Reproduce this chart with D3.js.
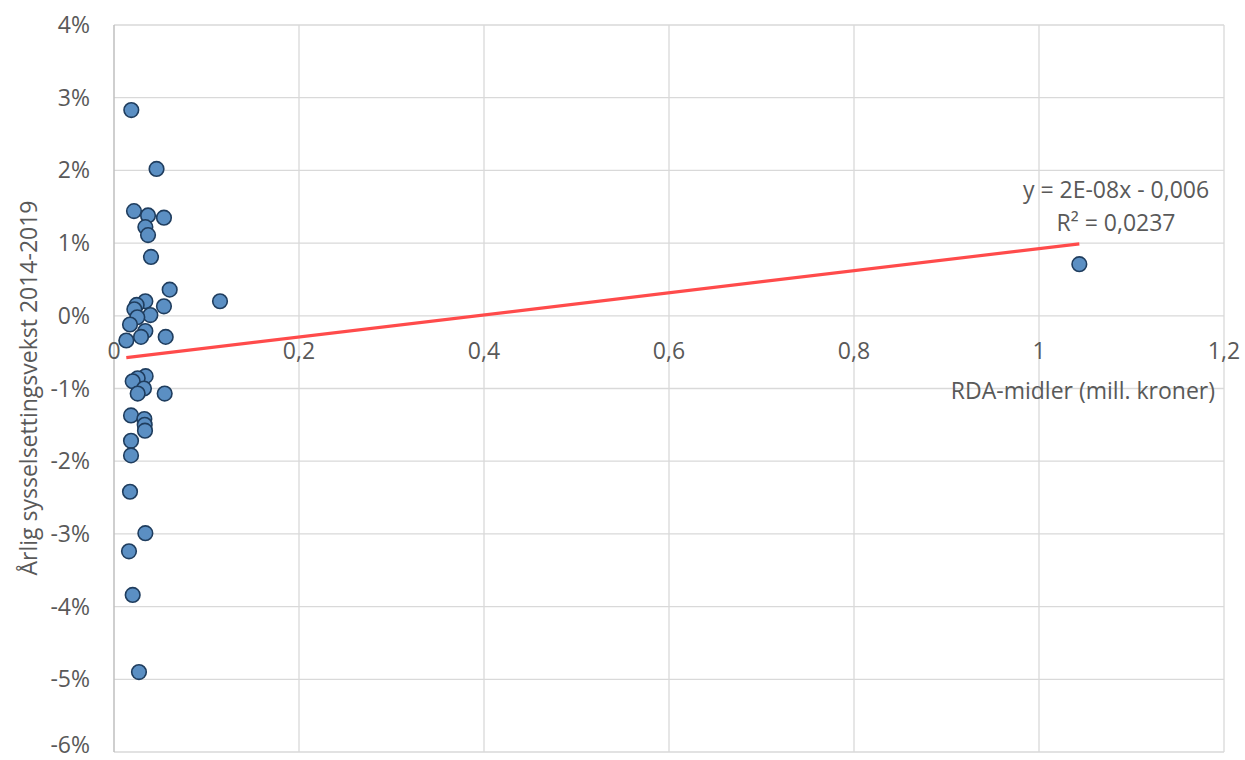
<!DOCTYPE html>
<html><head><meta charset="utf-8">
<script src="https://cdn.jsdelivr.net/npm/d3@7"></script>
<style>body{margin:0;background:#fff;} text{font-family:"Open Sans","Liberation Sans",Arial,sans-serif;fill:#595959;}</style>
</head><body>
<svg id="c" width="1245" height="760"></svg>
<script>
// RDA funds (mill. kroner)
const rdaX = [0.0187,0.046,0.0216,0.0368,0.054,0.0339,0.0368,0.040,
  0.0602,0.1146,0.0339,0.0245,0.022,0.054,0.0393,0.0252,0.0173,0.0339,0.0292,0.0133,0.0559,
  0.0342,0.0256,0.0202,0.0324,0.0256,0.0548,0.0184,0.0328,0.0332,0.0335,0.0184,0.0184,
  0.0173,0.0339,0.0162,0.0202,0.027,1.0436];
// annual employment growth 2014-2019 (%)
const growthY = [2.83,2.02,1.44,1.38,1.35,1.22,1.11,0.81,
  0.36,0.20,0.20,0.15,0.09,0.13,0.01,-0.02,-0.12,-0.21,-0.29,-0.34,-0.29,
  -0.83,-0.86,-0.90,-1.00,-1.07,-1.07,-1.37,-1.42,-1.50,-1.58,-1.72,-1.92,
  -2.42,-2.99,-3.24,-3.84,-4.90,0.71];
const xTicks = [0,0.2,0.4,0.6,0.8,1,1.2];
const xTickLabels = ["0","0,2","0,4","0,6","0,8","1","1,2"];
const yTicks = [4,3,2,1,0,-1,-2,-3,-4,-5,-6];
const yTickLabels = ["4%","3%","2%","1%","0%","-1%","-2%","-3%","-4%","-5%","-6%"];
const trendSlope = 1.519, trendIntercept = -0.595; // % per mill. kroner
const eqLines = ["y = 2E-08x - 0,006","R² = 0,0237"];
const xTitle = "RDA-midler (mill. kroner)";
const yTitle = "Årlig sysselsettingsvekst 2014-2019";

const svg = d3.select("#c");
const L=114, R=1224, T=25, B=752;
const x = d3.scaleLinear().domain([0,1.2]).range([L,R]);
const y = d3.scaleLinear().domain([-6,4]).range([B,T]);
const FS = 23;

// gridlines
svg.append("g").selectAll("line").data(yTicks).join("line")
  .attr("x1",L).attr("x2",R).attr("y1",d=>y(d)).attr("y2",d=>y(d))
  .attr("stroke","#d9d9d9").attr("stroke-width",1.3);
svg.append("g").selectAll("line").data(xTicks.slice(1)).join("line")
  .attr("x1",d=>x(d)).attr("x2",d=>x(d)).attr("y1",T).attr("y2",B)
  .attr("stroke","#d9d9d9").attr("stroke-width",1.3);
// left axis line
svg.append("line").attr("x1",L).attr("x2",L).attr("y1",T).attr("y2",B)
  .attr("stroke","#bfbfbf").attr("stroke-width",1.5);

// y tick labels
svg.append("g").selectAll("text").data(yTicks).join("text")
  .attr("x",90).attr("y",d=>Math.min(y(d)+8, 753)).attr("text-anchor","end")
  .attr("font-size",FS).text((d,i)=>yTickLabels[i]);
// x tick labels
svg.append("g").selectAll("text").data(xTicks).join("text")
  .attr("x",d=>x(d)).attr("y",y(0)+43).attr("text-anchor","middle")
  .attr("font-size",FS).text((d,i)=>xTickLabels[i]);

// axis titles
svg.append("text").attr("x",1215).attr("y",399).attr("text-anchor","end")
  .attr("font-size",FS).text(xTitle);
svg.append("text").attr("transform","translate(37,388) rotate(-90)")
  .attr("text-anchor","middle").attr("font-size",FS).text(yTitle);

// trendline
const xmin=d3.min(rdaX), xmax=d3.max(rdaX);
svg.append("line")
  .attr("x1",x(xmin)).attr("y1",y(trendIntercept+trendSlope*xmin))
  .attr("x2",x(xmax)).attr("y2",y(trendIntercept+trendSlope*xmax))
  .attr("stroke","#ff4b4b").attr("stroke-width",3.2);

// points
const pts = rdaX.map((v,i)=>({x:v,y:growthY[i]}));
svg.append("g").selectAll("circle").data(pts).join("circle")
  .attr("cx",d=>x(d.x)).attr("cy",d=>y(d.y)).attr("r",7.3)
  .attr("fill","#5b8fc3").attr("stroke","#1f3d5e").attr("stroke-width",1.6);

// equation
svg.append("g").selectAll("text").data(eqLines).join("text")
  .attr("x",1116).attr("y",(d,i)=>198+i*33).attr("text-anchor","middle")
  .attr("font-size",FS).text(d=>d);
</script>
</body></html>
